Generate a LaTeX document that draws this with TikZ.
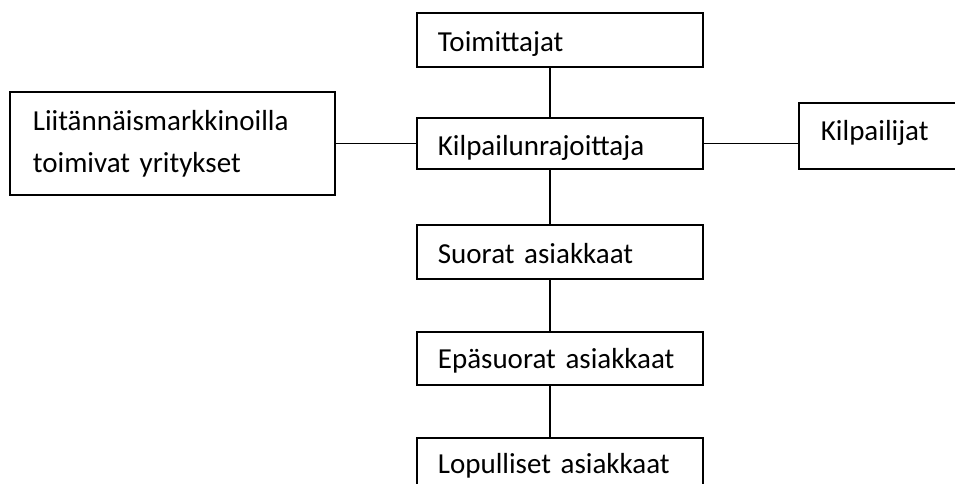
\documentclass[tikz,border=0pt]{standalone}
\usepackage{fontspec}
\setmainfont{Carlito}

\begin{document}
\begin{tikzpicture}[x=1pt,y=-1pt,line width=1.8pt,
	box node/.style = {draw, anchor=north west, align=left, inner ysep=0pt, inner xsep=21pt,
		text width=244pt, font=\fontsize{29}{42}\selectfont}]
	
	\useasboundingbox (0,0) rectangle (955,484);
	
	\node[box node,text height=39pt,text depth=15pt] at (416,12) (toim) {Toimittajat};
	\node[box node,text height=38pt,text depth=13pt] at (416,117) (kilp) {Kilpailunrajoittaja};
	\node[box node,text height=39pt,text depth=64pt,inner xsep=23pt,text width=279pt] at (9,91) (liit) {Liitännäismarkkinoilla\\toimivat yritykset};
	\node[box node,text height=38pt,text depth=28pt,inner xsep=22pt,text width=160pt] at (798,102) (kilpailijat) {Kilpailijat};
	\node[box node,text height=39pt,text depth=15pt] at (416,224) (suorat) {Suorat asiakkaat};
	\node[box node,text height=37pt,text depth=16pt] at (416,331) (epasuorat) {Epäsuorat asiakkaat};
	\node[box node,text height=36pt,text depth=30pt] at (416,437) (lopulliset) {Lopulliset asiakkaat};
	\coordinate (spine) at (550,0);
	
	\path[-]
	(toim.south -| spine) edge (kilp.north -| spine)
	(kilp.south -| spine) edge (suorat.north -| spine)
	(suorat.south -| spine) edge (epasuorat.north -| spine)
	(epasuorat.south -| spine) edge (lopulliset.north -| spine)
	(liit) edge (kilp)
	(kilp.east) edge (kilp.east -| kilpailijat.west);
\end{tikzpicture}
\end{document}
